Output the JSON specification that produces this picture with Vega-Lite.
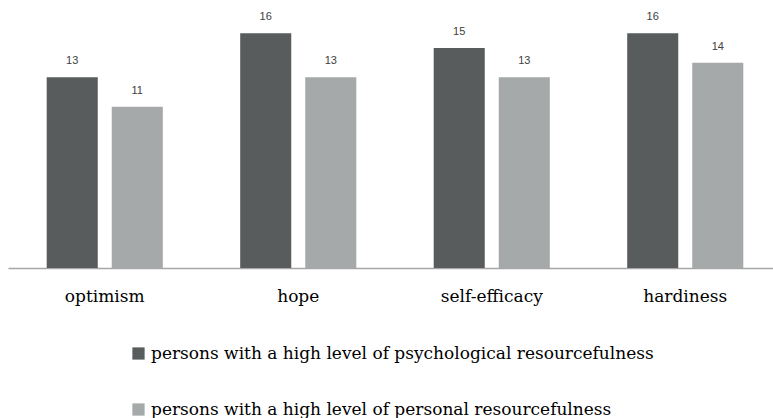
{
  "$schema": "https://vega.github.io/schema/vega-lite/v6.json",
  "width": 765,
  "height": 264,
  "autosize": {"type": "none"},
  "padding": {"left": 8, "top": 4, "right": 0, "bottom": 150},
  "background": "white",
  "config": {"view": {"stroke": null}},
  "data": {
    "values": [
      {"category": "optimism", "group": "persons with a high level of psychological resourcefulness", "value": 13},
      {"category": "optimism", "group": "persons with a high level of personal resourcefulness", "value": 11},
      {"category": "hope", "group": "persons with a high level of psychological resourcefulness", "value": 16},
      {"category": "hope", "group": "persons with a high level of personal resourcefulness", "value": 13},
      {"category": "self-efficacy", "group": "persons with a high level of psychological resourcefulness", "value": 15},
      {"category": "self-efficacy", "group": "persons with a high level of personal resourcefulness", "value": 13},
      {"category": "hardiness", "group": "persons with a high level of psychological resourcefulness", "value": 16},
      {"category": "hardiness", "group": "persons with a high level of personal resourcefulness", "value": 14}
    ]
  },
  "encoding": {
    "x": {
      "field": "category",
      "type": "nominal",
      "sort": ["optimism", "hope", "self-efficacy", "hardiness"],
      "scale": {"paddingInner": 0.4, "paddingOuter": 0.2, "range": [0, 774]},
      "axis": {
        "title": null,
        "labelAngle": 0,
        "ticks": false,
        "labelFont": "DejaVu Serif",
        "labelFontSize": 17,
        "labelColor": "#000000",
        "labelPadding": 20,
        "domainColor": "#a6a6a6",
        "domainWidth": 1.5
      }
    },
    "xOffset": {
      "field": "group",
      "type": "nominal",
      "sort": ["persons with a high level of psychological resourcefulness", "persons with a high level of personal resourcefulness"],
      "scale": {"paddingInner": 0.215, "paddingOuter": 0}
    },
    "y": {
      "field": "value",
      "type": "quantitative",
      "scale": {"domain": [0, 18], "nice": false},
      "axis": null
    }
  },
  "layer": [
    {
      "mark": {"type": "bar"},
      "encoding": {
        "color": {
          "field": "group",
          "type": "nominal",
          "sort": ["persons with a high level of psychological resourcefulness", "persons with a high level of personal resourcefulness"],
          "scale": {
            "domain": ["persons with a high level of psychological resourcefulness", "persons with a high level of personal resourcefulness"],
            "range": ["#585c5c", "#a6a9a9"]
          },
          "legend": {
            "title": null,
            "orient": "none",
            "legendX": 122,
            "legendY": 341,
            "direction": "vertical",
            "symbolType": "square",
            "symbolSize": 150,
            "symbolStrokeWidth": 0,
            "labelFont": "DejaVu Serif",
            "labelFontSize": 17,
            "labelColor": "#000000",
            "labelLimit": 1000,
            "labelOffset": 4,
            "rowPadding": 38
          }
        }
      }
    },
    {
      "mark": {
        "type": "text",
        "baseline": "bottom",
        "dy": -11,
        "font": "Liberation Sans",
        "fontSize": 11,
        "color": "#404040"
      },
      "encoding": {
        "text": {"field": "value", "type": "quantitative"}
      }
    }
  ]
}
